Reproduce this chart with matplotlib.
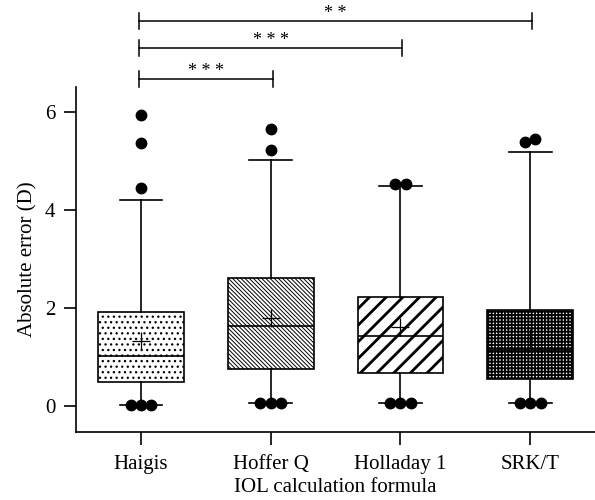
import numpy as np
import matplotlib
matplotlib.use("Agg")
import matplotlib.pyplot as plt

plt.rcParams["font.family"] = ["Liberation Serif", "DejaVu Serif"]

# values (dioptres)
formulas = ["Haigis", "Hoffer Q", "Holladay 1", "SRK/T"]
q1 = [0.50, 0.77, 0.69, 0.55]
medians = [1.02, 1.63, 1.43, 1.15]
q3 = [1.93, 2.62, 2.22, 1.97]
whisk_lo = [0.03, 0.06, 0.06, 0.06]
whisk_hi = [4.20, 5.02, 4.49, 5.17]
means = [1.33, 1.79, 1.62, 1.40]
outliers = [
    [0.03, 0.03, 0.03, 4.45, 5.36, 5.94],
    [0.06, 0.06, 0.06, 5.21, 5.65],
    [0.06, 0.06, 0.06, 4.53, 4.53],
    [0.07, 0.06, 0.07, 5.45, 5.38],
]
hatches = ["...", "\\" * 8, "//", "+" * 5]
hatch_lw = [0.9, 0.7, 2.0, 1.3]

# significance brackets: (group a, group b, label)
comparisons = [(0, 1, "* * *"), (0, 2, "* * *"), (0, 3, "* *")]

fig = plt.figure(figsize=(5.95, 5.0), dpi=100)
ax = fig.add_axes([0.128, 0.137, 0.872, 0.689])

pos = np.arange(len(formulas))
stats = []
for i, name in enumerate(formulas):
    stats.append(dict(label=name, q1=q1[i], med=medians[i], q3=q3[i],
                      whislo=whisk_lo[i], whishi=whisk_hi[i], mean=means[i],
                      fliers=[]))

lw = 1.2
bp = ax.bxp(stats, positions=pos, widths=0.66, capwidths=0.33,
            patch_artist=True, showmeans=True, showfliers=False,
            boxprops=dict(facecolor="white", edgecolor="black", linewidth=lw),
            medianprops=dict(color="black", linewidth=lw),
            whiskerprops=dict(color="black", linewidth=lw),
            capprops=dict(color="black", linewidth=lw),
            meanprops=dict(marker="+", markersize=13, markeredgecolor="black",
                           markeredgewidth=0.9))
for box, h, hl in zip(bp["boxes"], hatches, hatch_lw):
    box.set_hatch(h)
    if hasattr(box, "set_hatch_linewidth"):
        box.set_hatch_linewidth(hl)

# points beyond / at the whisker ends, spread sideways when they coincide
for i, vals in enumerate(outliers):
    vals = sorted(vals)
    groups = []
    for v in vals:
        if groups and abs(v - groups[-1][-1]) < 0.15:
            groups[-1].append(v)
        else:
            groups.append([v])
    for g in groups:
        offs = (np.arange(len(g)) - (len(g) - 1) / 2) * 0.08
        ax.plot(pos[i] + offs, g, "o", color="black", markersize=7.5,
                linestyle="none", zorder=4, clip_on=False)

ax.set_xlim(-0.5, 3.5)
ax.set_ylim(-0.51, 6.5)
ax.set_yticks([0, 2, 4, 6])
ax.set_xticks(pos)
ax.set_xticklabels(formulas)
for s in ["top", "right"]:
    ax.spines[s].set_visible(False)
for s in ["left", "bottom"]:
    ax.spines[s].set_linewidth(1.2)
ax.tick_params(axis="both", length=9, width=1.2, labelsize=15, direction="out")
ax.tick_params(axis="x", pad=8)
ax.tick_params(axis="y", pad=6)
ax.set_xlabel("IOL calculation formula", fontsize=15, labelpad=3)
ax.set_ylabel("Absolute error (D)", fontsize=15, labelpad=5)

# brackets above the plot
levels = [6.67, 7.30, 7.85]
tick_h = 0.16
for (a, b, lab), y in zip(comparisons, levels):
    xa, xb = pos[a] - 0.015, pos[b] + 0.015
    ax.plot([xa, xb], [y, y], color="black", lw=1.1, clip_on=False)
    ax.plot([xa, xa], [y - tick_h, y + tick_h], color="black", lw=1.1, clip_on=False)
    ax.plot([xb, xb], [y - tick_h, y + tick_h], color="black", lw=1.1, clip_on=False)
    ax.text((xa + xb) / 2, y - 0.02, lab, ha="center", va="bottom",
            fontsize=13, clip_on=False)

fig.savefig("out.png", dpi=100)
